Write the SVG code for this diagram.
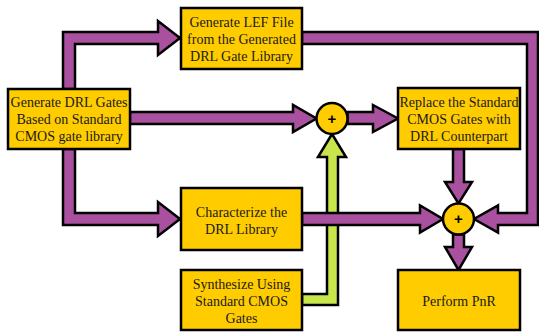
<svg xmlns="http://www.w3.org/2000/svg" width="539" height="332" viewBox="0 0 539 332">
<style>
.box{fill:#FFCC00;stroke:#000;stroke-width:2.5}
.arr{fill:#A9519E;stroke:#000;stroke-width:2.5;stroke-linejoin:miter}
.garr{fill:#C8E64B;stroke:#000;stroke-width:2.5;stroke-linejoin:miter}
.sum{fill:#FFCC00;stroke:#000;stroke-width:2.5}
text{font-family:"Liberation Serif","Times New Roman",serif;font-size:14px;fill:#1a1a1a;text-anchor:middle}
.plus{font-family:"Liberation Sans",Arial,sans-serif;font-size:15px;font-weight:bold;fill:#000}
</style>
<rect width="539" height="332" fill="#fff"/>
<g id="connectors">
<path class="garr" d="M302,294 L327,294 L327,157 L318,157 L332,134 L346,157 L338,157 L338,305 L302,305 Z"/>
<path class="arr" d="M63,89 L63,32 L158,32 L158,21 L180,38 L158,55 L158,44 L75,44 L75,89 Z"/>
<path class="arr" d="M130,112 L293,112 L293,105 L316.5,118.5 L293,132 L293,124 L130,124 Z"/>
<path class="arr" d="M347.5,112 L373,112 L373,105 L398,118.5 L373,132 L373,124 L347.5,124 Z"/>
<path class="arr" d="M63,149 L63,225 L158,225 L158,236 L180,219 L158,202 L158,213 L75,213 L75,149 Z"/>
<path class="arr" d="M302,32 L538,32 L538,225 L498,225 L498,232.5 L474,219 L498,205.5 L498,213 L527,213 L527,44 L302,44 Z"/>
<path class="arr" d="M302,213 L420,213 L420,205.5 L443,219 L420,232.5 L420,225 L302,225 Z"/>
<path class="arr" d="M453,149 L453,182 L445,182 L458.5,203.5 L472,182 L464,182 L464,149 Z"/>
<path class="arr" d="M453,234.5 L453,247 L445,247 L458.5,270 L472,247 L464,247 L464,234.5 Z"/>
</g>
<g id="sum1"><circle class="sum" cx="332" cy="118.5" r="15.5"/><text class="plus" x="332" y="123.5">+</text></g>
<g id="sum2"><circle class="sum" cx="458.5" cy="219" r="15.5"/><text class="plus" x="458.5" y="224">+</text></g>
<g id="genDRL"><rect class="box" x="8" y="89" width="122" height="60"/>
<text x="69" y="107">Generate DRL Gates</text><text x="69" y="124">Based on Standard</text><text x="69" y="141">CMOS gate library</text></g>
<g id="genLEF"><rect class="box" x="181" y="8" width="121" height="61"/>
<text x="241.5" y="26.5">Generate LEF File</text><text x="241.5" y="43.5">from the Generated</text><text x="241.5" y="60.5">DRL Gate Library</text></g>
<g id="replace"><rect class="box" x="398" y="88" width="122" height="61"/>
<text x="459" y="107">Replace the Standard</text><text x="459" y="124">CMOS Gates with</text><text x="459" y="141">DRL Counterpart</text></g>
<g id="characterize"><rect class="box" x="181" y="188" width="121" height="62"/>
<text x="241.5" y="216.5">Characterize the</text><text x="241.5" y="233.5">DRL Library</text></g>
<g id="synthesize"><rect class="box" x="181" y="270" width="121" height="60"/>
<text x="241.5" y="289">Synthesize Using</text><text x="241.5" y="306">Standard CMOS</text><text x="241.5" y="323">Gates</text></g>
<g id="pnr"><rect class="box" x="398" y="270" width="122" height="60"/>
<text x="459" y="306">Perform PnR</text></g>
</svg>
